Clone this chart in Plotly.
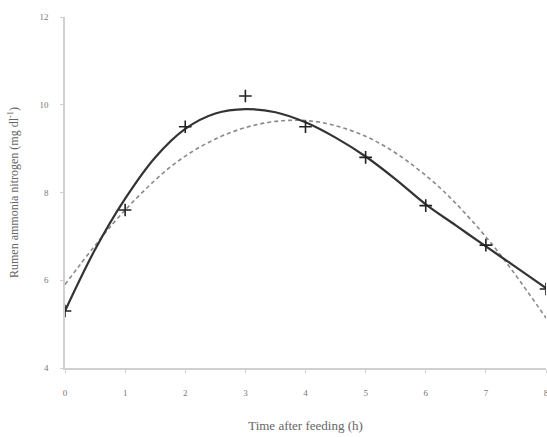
import plotly.graph_objects as go

# Observed data (crosses)
time_h = [0, 1, 2, 3, 4, 5, 6, 7, 8]
ammonia = [5.3, 7.6, 9.5, 10.2, 9.5, 8.8, 7.7, 6.8, 5.8]

# Solid fitted curve
solid_x = [0, 0.5, 1, 1.5, 2, 2.5, 3, 3.5, 4, 4.5, 5, 5.5, 6, 6.5, 7, 7.5, 8]
solid_y = [5.3, 6.7, 7.86, 8.8, 9.45, 9.8, 9.9, 9.83, 9.6, 9.25, 8.82, 8.3, 7.73, 7.25, 6.77, 6.3, 5.82]

# Dashed fitted curve
dash_x = [0, 1, 2, 3, 4, 5, 6, 7, 8]
dash_y = [5.9, 7.6, 8.83, 9.48, 9.64, 9.28, 8.39, 6.99, 5.14]

x_ticks = [0, 1, 2, 3, 4, 5, 6, 7, 8]
y_ticks = [4, 6, 8, 10, 12]

font_family = "Liberation Serif"

fig = go.Figure()
fig.add_trace(go.Scatter(x=dash_x, y=dash_y, mode="lines", line=dict(color="#8a8a8a", width=1.6, dash="4px,3px", shape="spline"), showlegend=False))
fig.add_trace(go.Scatter(x=solid_x, y=solid_y, mode="lines", line=dict(color="#333333", width=2.2, shape="spline"), showlegend=False))
fig.add_trace(go.Scatter(x=time_h, y=ammonia, mode="markers",
                         marker=dict(symbol="cross-thin", size=9, line=dict(color="#222222", width=1.6)),
                         showlegend=False))

axis_common = dict(showgrid=False, zeroline=False, showline=True, linecolor="#d0d0d0", linewidth=1.5,
                   ticks="outside", ticklen=3, tickcolor="#d0d0d0", automargin=False,
                   ticklabeloverflow="allow",
                   tickfont=dict(family=font_family, size=9, color="#777777"))

fig.update_xaxes(range=[0, 8], tickvals=x_ticks, ticklabelstandoff=12,
                 title=dict(text="Time after feeding (h)", font=dict(family=font_family, size=13, color="#666666"), standoff=24),
                 **axis_common)
fig.update_yaxes(range=[4, 12], tickvals=y_ticks, ticklabelstandoff=10,
                 title=dict(text="Rumen ammonia nitrogen (mg dl<sup>-1</sup>)", font=dict(family=font_family, size=12, color="#666666"), standoff=18),
                 **axis_common)

fig.update_layout(width=547, height=437, margin=dict(l=65, r=1, t=17, b=69),
                  plot_bgcolor="white", paper_bgcolor="white")

# remove the default 8px page margin so the figure fills the window exactly
fig.write_html("out.html", config={"displayModeBar": False},
               post_script="document.body.style.margin='0';document.body.style.overflow='hidden';")
